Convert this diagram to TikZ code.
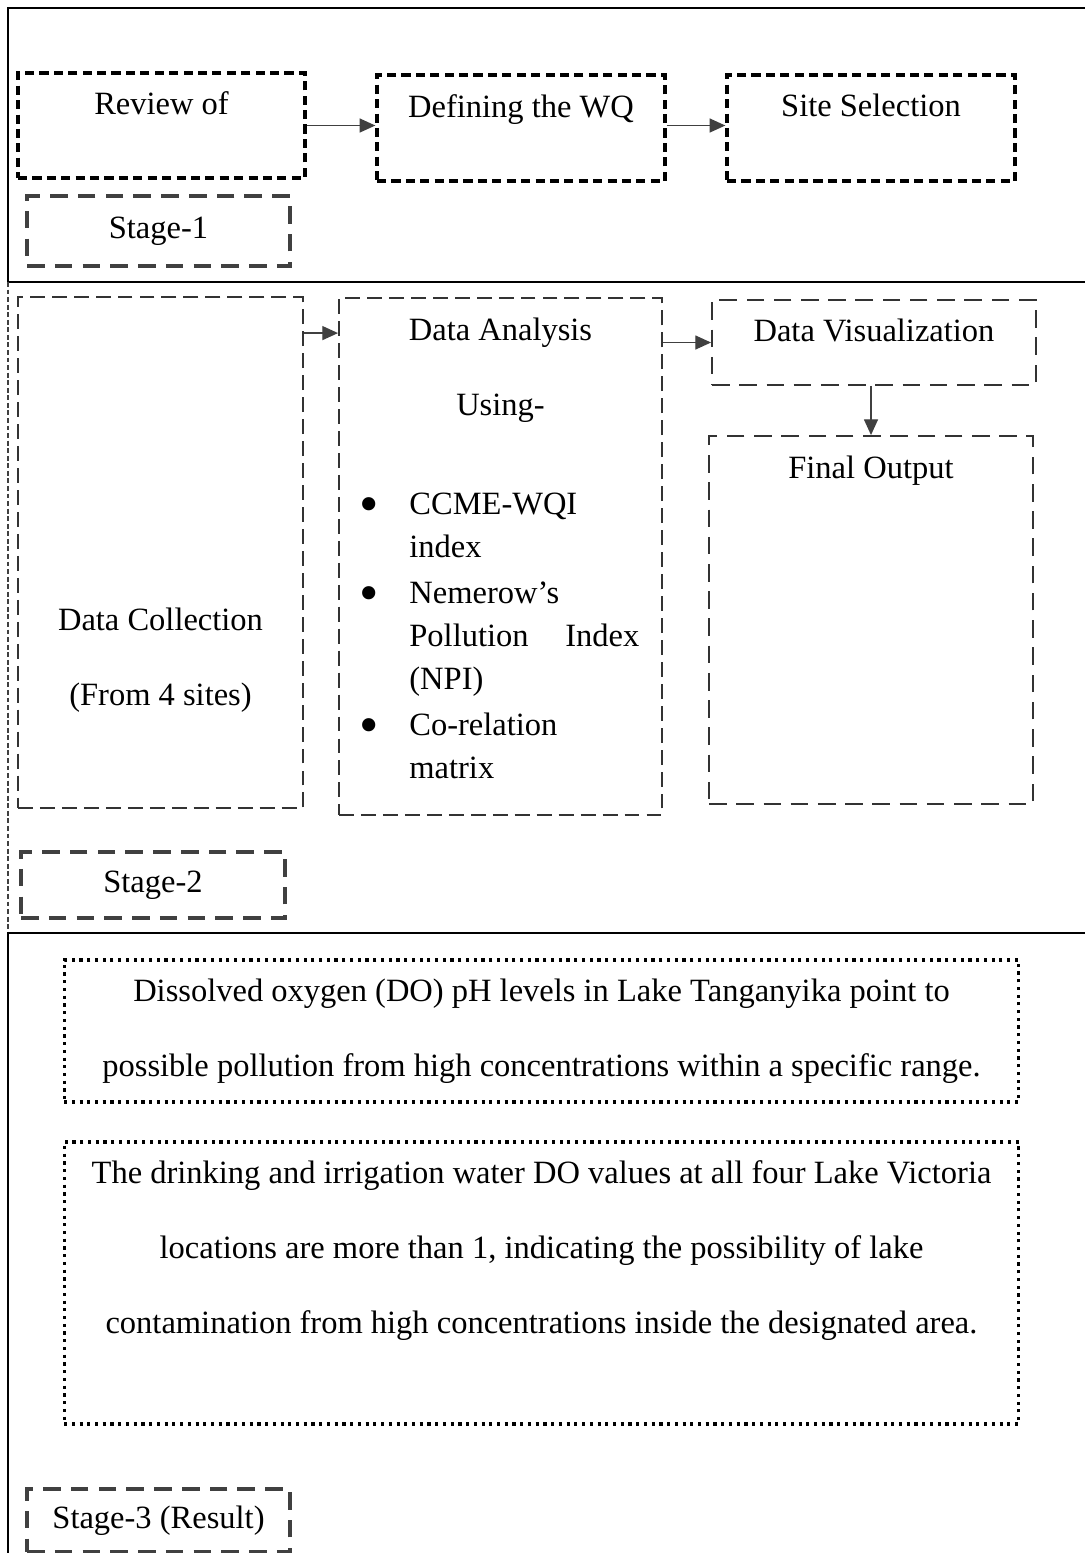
\documentclass[tikz,border=0pt]{standalone}
\usepackage{fontspec}
\setmainfont{Liberation Serif}
\usetikzlibrary{arrows.meta,positioning}

\newcommand{\bigdot}{\makebox[1cm][l]{\raisebox{-0.22em}{\scalebox{1.7}{\textbullet}}}}

\tikzset{
  stepbox/.style={draw=black, line width=1.9pt, dash pattern=on 5.2pt off 3pt,
    minimum width=5.76cm, minimum height=2.12cm},
  stagebox/.style={draw=black!75, line width=2.2pt, dash pattern=on 10pt off 5.8pt,
    minimum width=5.26cm},
  workbox/.style={draw=black!80, line width=1.1pt, dash pattern=on 8.5pt off 4pt},
  resultbox/.style={draw=black, line width=1.8pt, dash pattern=on 1.8pt off 2.6pt,
    minimum width=19.1cm, align=center},
  toptext/.style={anchor=north, inner sep=0pt, align=center},
  link/.style={-{Triangle[length=9pt,width=8pt]}, draw=black!75, line width=0.8pt},
}

\begin{document}
\begin{tikzpicture}[x=0.02cm, y=-0.02cm, font=\fontsize{18.5pt}{0.86cm}\selectfont]
\useasboundingbox (0,0) rectangle (1085,1553);

% frames of the three stages
\draw[line width=1.5pt] (1085,8) -- (8,8) -- (8,282) -- (1085,282);
\draw[black!75, line width=1pt, dash pattern=on 2.8pt off 1.5pt] (8,282) -- (8,933);
\draw[line width=1.5pt] (1085,933) -- (8,933) -- (8,1553);

% stage 1
\node[stepbox, minimum width=5.74cm, minimum height=2.1cm,
  label={[toptext, yshift=-0.39cm]north:Review of}] (review) at (161.5,125.5) {};
\node[stepbox, label={[toptext, yshift=-0.41cm]north:Defining the WQ}] (defining) at (521,128) {};
\node[stepbox, label={[toptext, yshift=-0.41cm]north:Site Selection}] (site) at (871,128) {};
\draw[link] (review.east) -- (review.east -| defining.west);
\draw[link] (defining.east |- review.east) -- (site.west |- review.east);
\node[stagebox, minimum height=1.4cm] (stage1) at (158.5,231) {Stage-1};

% stage 2
\node[workbox, minimum width=5.7cm, minimum height=10.22cm,
  label={[toptext, yshift=-6.23cm]north:{Data Collection\\[0.64cm](From 4 sites)}}] (collect) at (160.5,552.5) {};
\node[workbox, minimum width=6.46cm, minimum height=10.34cm,
  label={[toptext, yshift=-0.41cm]north:{Data Analysis\\[0.64cm]Using-}}] (analysis) at (500.5,556.5) {};
\node[anchor=north west, inner sep=0pt, align=left] (methods)
  at ([xshift=0.42cm, yshift=-3.92cm]analysis.north west) {%
  \bigdot CCME-WQI\\
  \hspace*{1cm}index\\[0.06cm]
  \bigdot Nemerow’s\\
  \hspace*{1cm}\makebox[4.6cm][s]{Pollution Index}\\
  \hspace*{1cm}(NPI)\\[0.06cm]
  \bigdot Co-relation\\
  \hspace*{1cm}matrix};
\node[workbox, dash pattern=on 10pt off 5.5pt, minimum width=6.48cm, minimum height=1.7cm,
  label={[toptext, yshift=-0.39cm]north:Data Visualization}] (visual) at (874,342.5) {};
\node[workbox, dash pattern=on 10pt off 5.5pt, minimum width=6.48cm, minimum height=7.36cm,
  label={[toptext, yshift=-0.41cm]north:Final Output}] (final) at (871,620) {};
\coordinate (collectout) at ([yshift=-0.74cm]collect.north east);
\draw[link] (collectout) -- (collectout -| analysis.west);
\draw[link] (visual.west -| analysis.east) -- (visual.west);
\draw[link] (visual.south -| final.north) -- (final.north);
\node[stagebox, minimum width=5.28cm, minimum height=1.32cm] (stage2) at (153,885) {Stage-2};

% stage 3
\node[resultbox, minimum height=2.84cm] (tanganyika) at (541.5,1031)
  {Dissolved oxygen (DO) pH levels in Lake Tanganyika point to\\[0.64cm]
   possible pollution from high concentrations within a specific range.};
\node[resultbox, minimum height=5.64cm,
  label={[toptext, yshift=-0.39cm]north:{The drinking and irrigation water DO values at all four Lake Victoria\\[0.64cm]
   locations are more than 1, indicating the possibility of lake\\[0.64cm]
   contamination from high concentrations inside the designated area.}}] (victoria) at (541.5,1283) {};
\node[stagebox, minimum height=1.26cm] (stage3) at (158.5,1520.5) {Stage-3 (Result)};
\end{tikzpicture}
\end{document}
